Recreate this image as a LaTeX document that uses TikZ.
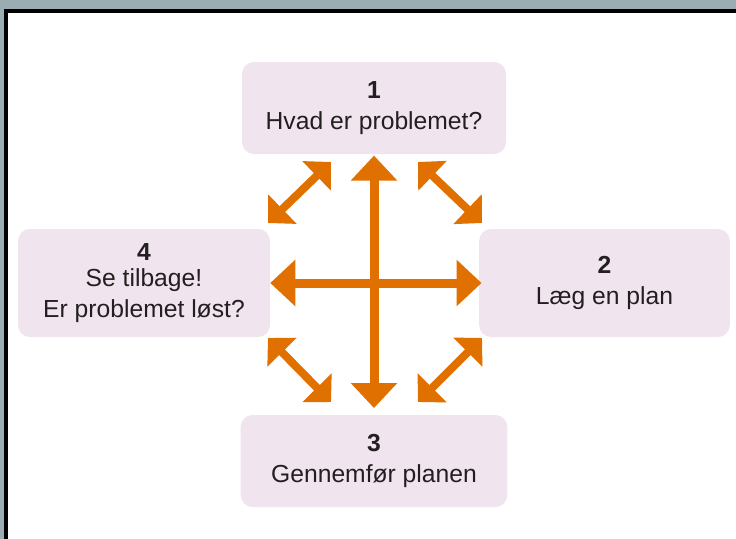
\documentclass[tikz,border=0pt]{standalone}
\usepackage{fontspec}
\setmainfont{Liberation Sans}
\usetikzlibrary{arrows.meta}
\definecolor{rammegraa}{HTML}{9AADB3}
\definecolor{boksrosa}{HTML}{F0E4EE}
\definecolor{pilorange}{HTML}{E07000}
\definecolor{tekstsort}{HTML}{231F20}
\begin{document}
\begin{tikzpicture}[x=0.75pt,y=-0.75pt,
    stepbox/.style={fill=boksrosa,rounded corners=9pt,inner sep=0pt,align=center,
        text=tekstsort,font=\fontsize{18.5}{23.5}\selectfont},
    bigarrow/.style={pilorange,line width=6.75pt,
        {Triangle[width=33.75pt,length=18.75pt]}-{Triangle[width=33.75pt,length=18.75pt]}},
    smallarrow/.style={pilorange,line width=6pt,
        {Triangle[width=30pt,length=15pt]}-{Triangle[width=30pt,length=15pt]}}]
        \useasboundingbox (0,0) rectangle (736,539);
        \fill[rammegraa] (0,0) rectangle (736,539);
        \fill[black] (4,9) rectangle (736,539);
        \fill[white] (8,13) rectangle (736,539);
        % de fire trin
        \node[stepbox,minimum width=198pt,minimum height=69pt] (problem) at (374,108) {\textbf{1}\\Hvad er problemet?};
        \node[stepbox,minimum width=188pt,minimum height=81pt] (plan) at (604.5,283) {\textbf{2}\\Læg en plan};
        \node[stepbox,minimum width=200pt,minimum height=69pt] (udfoer) at (374,461) {\textbf{3}\\Gennemfør planen};
        \node[stepbox,minimum width=189pt,minimum height=81pt] (tilbage) at (144,283) {\textbf{4}\\[-4pt]Se tilbage!\\Er problemet løst?};
        % pile
        \draw[bigarrow,shorten <=1pt,shorten >=5pt] (problem.south) -- (udfoer.north);
        \draw[bigarrow,shorten >=-2pt] (tilbage.east) -- (plan.west);
        \coordinate (tv1) at (268,223);
        \coordinate (tv2) at (331,162);
        \coordinate (th1) at (418,162);
        \coordinate (th2) at (482,223);
        \coordinate (bv1) at (268,338);
        \coordinate (bv2) at (331,402);
        \coordinate (bh1) at (418,402);
        \coordinate (bh2) at (482,338);
        \draw[smallarrow] (tv1) -- (tv2);
        \draw[smallarrow] (th1) -- (th2);
        \draw[smallarrow] (bv1) -- (bv2);
        \draw[smallarrow] (bh1) -- (bh2);
\end{tikzpicture}
\end{document}
